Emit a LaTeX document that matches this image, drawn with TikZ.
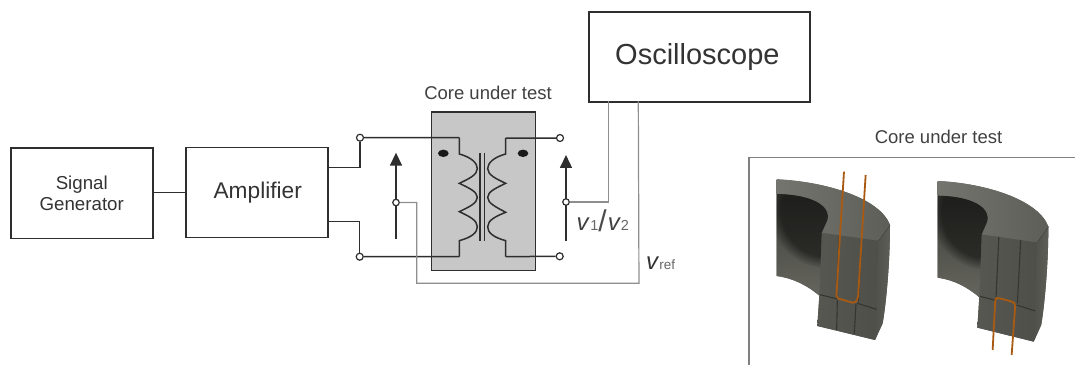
\documentclass[tikz,border=0pt]{standalone}
\usepackage{fontspec}
\setmainfont{Liberation Sans}
\usetikzlibrary{arrows.meta,fadings,calc}
\definecolor{wirec}{HTML}{2E2E2E}
\definecolor{probec}{HTML}{8E8E8E}
\definecolor{corec}{HTML}{C6C7C6}
\definecolor{orangew}{HTML}{A85A12}
\definecolor{groove}{HTML}{36362F}
\definecolor{baseC}{HTML}{555550}
\definecolor{frontA}{HTML}{575752}
\definecolor{frontB}{HTML}{4F4F4A}
\definecolor{sideA}{HTML}{5E5E59}
\definecolor{sideB}{HTML}{50504B}
\definecolor{topA}{HTML}{75756F}
\definecolor{topB}{HTML}{5E5E59}
\definecolor{innerA}{HTML}{3E3E39}
\definecolor{innerC}{HTML}{66665F}
\newcommand{\fs}[1]{\fontsize{#1}{#1}\selectfont}
\tikzset{
  blockbox/.style={draw=wirec,line width=1.5pt,inner sep=0pt,text=black!80,align=center},
  wire/.style={draw=wirec,line width=1.5pt},
  probe/.style={draw=probec,line width=1.2pt},
  terminal/.style={circle,draw=wirec,fill=white,line width=1.2pt,minimum size=7pt,inner sep=0pt},
  tap/.style={circle,draw=wirec,fill=corec,line width=1.2pt,minimum size=6.5pt,inner sep=0pt},
  volt/.style={draw=wirec,line width=1.6pt,-{Triangle[length=13pt,width=12pt]}},
  title/.style={text=black!75,inner sep=0pt},
  grv/.style={draw=groove,line width=1.1pt},
  orw/.style={draw=orangew,line width=1.8pt,line join=round},
}
\newcommand{\coreshape}{%
  % silhouette under all faces
  \fill[baseC] (110,178) .. controls (260,185) and (420,235) .. (450,315)
     .. controls (450,420) and (440,540) .. (428,610) -- (405,660) -- (290,632) -- (232,618) -- (238,527)
     .. controls (200,495) and (160,475) .. (110,468) -- cycle;
  % front
  \shade[left color=frontA,right color=frontB] (245,338)--(415,362)--(405,660)--(290,632)--(232,618)--(238,527)--cycle;
  % right side
  \shade[left color=sideB,right color=sideA] (415,362)--(450,315) .. controls (450,420) and (440,540) .. (428,610) -- (405,660)--cycle;
  \draw[draw=black!80,line width=.8pt] (415,362)--(450,315);
  % top face
  \shade[left color=topA,right color=topB]
     (110,178) .. controls (260,185) and (420,235) .. (450,315) -- (415,362) -- (245,338) -- (262,300)
     .. controls (272,270) and (240,225) .. (110,222) -- cycle;
  % inner face
  \begin{scope}
    \clip (110,222) .. controls (240,225) and (272,270) .. (262,300) -- (245,338) -- (238,527)
       .. controls (200,495) and (160,475) .. (110,468) -- cycle;
    \shade[top color=innerA,bottom color=innerC] (100,222) rectangle (270,530);
    \fill[black,opacity=.5,path fading=circle with fuzzy edge 20 percent] (262,270) circle[radius=175];
  \end{scope}
  % grooves
  \draw[grv] (240,524)--(292,537);
  \draw[grv] (352,550)--(410,568);
  \draw[grv] (298,345)--(289,535);
  \draw[grv] (365,355)--(355,545);
}
\newcommand{\lowergrooves}{%
  \draw[grv] (292,540)--(290,630);
  \draw[grv] (348,552)--(343,642);
}
\begin{document}
\begin{tikzpicture}[x=1pt,y=-1pt]
\useasboundingbox (0,0) rectangle (1075,365);
% core block
\node[draw=wirec,fill=corec,line width=1.5pt,minimum width=104pt,minimum height=158.5pt,inner sep=0pt,anchor=north west] (coreblock) at (430.7,111.3) {};
\node[title,anchor=base] (coretitle) at (488,99.5) {\fs{18.5}Core under test};
% blocks
\node[blockbox,minimum width=142pt,minimum height=90.5pt,anchor=north west] (sig) at (10,147.3) {\fs{18.7}Signal\hspace{3pt}\\[3pt]\fs{18.7}Generator\hspace{3pt}};
\node[blockbox,minimum width=142pt,minimum height=90pt,anchor=north west] (amp) at (185,146.7) {\fs{22.7}\hspace{2pt}Amplifier};
\node[blockbox,minimum width=220.7pt,minimum height=90.3pt,anchor=north west] (osc) at (588.3,11) {\fs{29}Oscilloscope\hspace{4pt}};
\draw[wire] (sig.east |- 0,192.3) -- (amp.west |- 0,192.3);
% terminals
\node[terminal] (tl1) at (360,137.7) {};
\node[terminal] (tl2) at (359.7,256.7) {};
\node[terminal] (tr1) at (560,138) {};
\node[terminal] (tr2) at (559.7,256.3) {};
\draw[wire] (amp.east |- 0,167.3) -| (tl1);
\draw[wire] (amp.east |- 0,221.3) -| (tl2);
% windings
\begin{scope}[shift={(340,80)},x=.3333pt,y=-.3333pt]
  \coordinate (pa) at (358,173); \coordinate (pb) at (358,530);
  \coordinate (sa) at (497,174); \coordinate (sb) at (497,530);
  \draw[wire] (pa) -- (358,222) .. controls (395,232) and (412,250) .. (412,266)
     .. controls (412,285) and (385,297) .. (358,310)
     .. controls (385,323) and (412,335) .. (412,352)
     .. controls (412,370) and (385,382) .. (358,395)
     .. controls (385,408) and (412,420) .. (412,440)
     .. controls (412,458) and (395,472) .. (358,482) -- (pb);
  \draw[wire] (sa) -- (497,222) .. controls (460,232) and (443,250) .. (443,266)
     .. controls (443,285) and (470,297) .. (497,310)
     .. controls (470,323) and (443,335) .. (443,352)
     .. controls (443,370) and (470,382) .. (497,397)
     .. controls (470,408) and (443,420) .. (443,440)
     .. controls (443,458) and (460,472) .. (497,482) -- (sb);
  \draw[draw=wirec,line width=1.1pt] (420,220)--(420,483);
  \draw[draw=wirec,line width=1.1pt] (433,220)--(433,483);
  \fill[black!90] (310,220) ellipse[x radius=16,y radius=11];
  \fill[black!90] (549,220) ellipse[x radius=16,y radius=11];
  \coordinate (al1) at (168,476); \coordinate (al2) at (168,218);
  \coordinate (ar1) at (678,482); \coordinate (ar2) at (678,225);
  \coordinate (vrefc) at (230,610); \coordinate (vrefd) at (897,610);
\end{scope}
\draw[wire] (tl1) -- (pa);
\draw[wire] (tl2) -- (pb);
\draw[wire] (tr1) -- (sa);
\draw[wire] (tr2) -- (sb);
% voltage arrows
\draw[volt] (al1) -- (al2);
\draw[volt] (ar1) -- (ar2);
\node[tap,fill=white] (tapl) at (396,202.5) {};
\node[tap,fill=white] (tapr) at (566,202) {};
% probes
\coordinate (oscL) at (608.3,101.3);
\coordinate (oscR) at (638.3,101.3);
\draw[probe] (tapr) -| (oscL);
\draw[probe] (tapl) -| (vrefc) -- (vrefd) -- (oscR);
% labels
\node[inner sep=0pt,anchor=base west,text=black!75] (v12) at (576.5,230)
  {\fs{24}\textit{v}\kern.5pt\fs{14.5}\textcolor{black!60}{1}\raisebox{-1.5pt}{\fs{30}\textcolor{black!70}{/}}\kern1pt\fs{24}\textit{v}\fs{14.5}\textcolor{black!60}{2}};
\node[inner sep=0pt,anchor=base west,text=black!80] (vref) at (646,269)
  {\fs{24}\textit{v}\fs{13.5}\textcolor{black!60}{ref}};
% inset
\node[title,anchor=base] (insettitle) at (938.5,143.5) {\fs{18.5}Core under test};
\coordinate (fbl) at (749,365); \coordinate (ftl) at (749,157.7); \coordinate (ftr) at (1075,157.7);
\draw[draw=black!50,line width=1.5pt] (fbl) -- (ftl) -- (ftr);
% core 1
\begin{scope}[shift={(740,120)},x=.3333pt,y=-.3333pt]
  \coreshape
  \lowergrooves
  \draw[orw,rounded corners=2pt] (312,155) -- (300,345) -- (289,534) -- (345,550) -- (354,535) -- (365,355) -- (377,165);
\end{scope}
% core 2
\begin{scope}[shift={(740,120)},x=.3333pt,y=-.3333pt]
  \begin{scope}[xshift=161.8pt,yshift=-1.67pt,xscale=.977]
    \coreshape
  \end{scope}
  \draw[orw,rounded corners=2pt] (758,690) -- (766,537) -- (772,533) -- (820,546) -- (826,552) -- (815,705);
\end{scope}
\end{tikzpicture}
\end{document}
